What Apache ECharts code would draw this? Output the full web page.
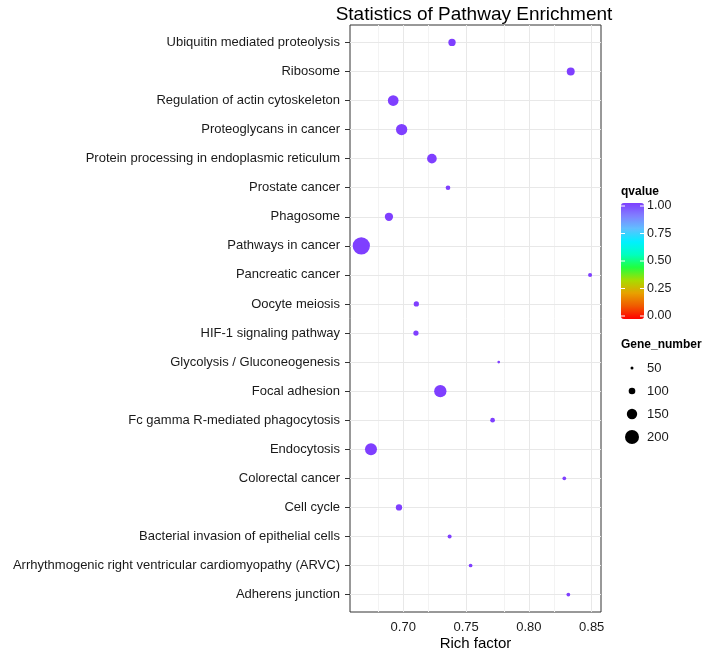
<!DOCTYPE html>
<html>
<head>
<meta charset="utf-8">
<script src="https://cdn.jsdelivr.net/npm/echarts@6/dist/echarts.min.js"></script>
<style>
html,body{margin:0;padding:0;background:#fff;}
#chart{width:709px;height:649px;}
</style>
</head>
<body>
<div id="chart"></div>
<script>
// ---- data (top-to-bottom order as in picture) ----
const categories = [
  'Ubiquitin mediated proteolysis',
  'Ribosome',
  'Regulation of actin cytoskeleton',
  'Proteoglycans in cancer',
  'Protein processing in endoplasmic reticulum',
  'Prostate cancer',
  'Phagosome',
  'Pathways in cancer',
  'Pancreatic cancer',
  'Oocyte meiosis',
  'HIF-1 signaling pathway',
  'Glycolysis / Gluconeogenesis',
  'Focal adhesion',
  'Fc gamma R-mediated phagocytosis',
  'Endocytosis',
  'Colorectal cancer',
  'Cell cycle',
  'Bacterial invasion of epithelial cells',
  'Arrhythmogenic right ventricular cardiomyopathy (ARVC)',
  'Adherens junction'
];
const richFactor = [0.7388,0.8333,0.6920,0.6987,0.7228,0.7356,0.6886,0.6666,0.8487,0.7104,
                    0.7101,0.7760,0.7295,0.7711,0.6743,0.8282,0.6966,0.7369,0.7536,0.8314];
const geneNumber = [109,118,155,163,141,73,122,245,64,81,81,46,177,73,173,60,95,64,60,60];
const qvalue = [1,1,1,1,1,1,1,1,1,1,1,1,1,1,1,1,1,1,1,1];

const xTicks = [0.70,0.75,0.80,0.85];
const xMinorTicks = [0.675,0.725,0.775,0.825];
const qTicks = [0,0.25,0.5,0.75,1];
const qTickLabels = ['0.00','0.25','0.50','0.75','1.00'];
const sizeBreaks = [50,100,150,200];

// ---- styling / mapping ----
const FONT = '"Liberation Sans", Arial, Helvetica, sans-serif';
const n = categories.length;
const sizeFn = g => 3 + (g - 50) * 0.0733;
const rainbow = ['#FF0000','#F05A00','#E8A000','#A8DC00','#20FF40','#00FFC0','#00F0FF','#60C0FF','#8080FF','#7F3FFF'];

const data = categories.map((c, i) => [richFactor[i], n - 1 - i, qvalue[i], geneNumber[i]]);
const yIdx = categories.map((c, i) => i);

// colorbar geometry
const cb = {x: 621, y: 203, w: 23, h: 116, inset: 3};
const qToY = v => cb.y + cb.h - cb.inset - v * (cb.h - 2 * cb.inset);

const graphics = [];
graphics.push({type:'text', left: 621, top: 186, style:{text:'qvalue', font:'bold 12px ' + FONT, fill:'#000'}});
qTicks.forEach((v, k) => {
  const y = qToY(v);
  graphics.push({type:'text', x: 647, y: y, style:{text: qTickLabels[k], font: '12.5px ' + FONT, fill:'#1a1a1a', textVerticalAlign:'middle'}});
  graphics.push({type:'line', shape:{x1: cb.x, y1: y, x2: cb.x + 4, y2: y}, style:{stroke:'#fff', lineWidth:1}, z: 100});
  graphics.push({type:'line', shape:{x1: cb.x + cb.w - 4, y1: y, x2: cb.x + cb.w, y2: y}, style:{stroke:'#fff', lineWidth:1}, z: 100});
});
graphics.push({type:'text', left: 621, top: 339, style:{text:'Gene_number', font:'bold 12px ' + FONT, fill:'#000'}});
sizeBreaks.forEach((g, k) => {
  const cy = 368 + k * 23;
  graphics.push({type:'circle', shape:{cx: 632, cy: cy, r: sizeFn(g) / 2}, style:{fill:'#000'}});
  graphics.push({type:'text', x: 647, y: cy, style:{text: String(g), font: '13px ' + FONT, fill:'#1a1a1a', textVerticalAlign:'middle'}});
});

const chart = echarts.init(document.getElementById('chart'), null, {renderer:'canvas'});
chart.setOption({
  animation: false,
  backgroundColor: '#fff',
  title: {
    text: 'Statistics of Pathway Enrichment',
    left: 469, top: 0, textAlign: 'center',
    textStyle: {fontFamily: FONT, fontSize: 19, fontWeight: 'normal', color: '#000'}
  },
  grid: {left: 350, right: 108, top: 25, bottom: 37, show: true, borderColor: '#333', borderWidth: 1,
         backgroundColor: '#fff', containLabel: false, outerBoundsMode: 'none'},
  xAxis: {
    type: 'value', min: 0.6576, max: 0.8574,
    name: 'Rich factor', nameLocation: 'middle', nameGap: 24, nameMoveOverlap: false,
    nameTextStyle: {fontFamily: FONT, fontSize: 15, color: '#000', verticalAlign: 'top'},
    axisLine: {show: false},
    axisTick: {show: true, length: 5, customValues: xTicks, lineStyle: {color: '#333'}},
    axisLabel: {customValues: xTicks, margin: 9, formatter: v => v.toFixed(2), fontFamily: FONT, fontSize: 13, color: '#1a1a1a'},
    splitLine: {show: false}
  },
  yAxis: {
    type: 'value', min: -0.6, max: n - 1 + 0.6,
    axisLine: {show: false},
    axisTick: {show: true, length: 5, customValues: yIdx, lineStyle: {color: '#333'}},
    axisLabel: {customValues: yIdx, margin: 10, formatter: v => categories[n - 1 - Math.round(v)], fontFamily: FONT, fontSize: 13, color: '#1a1a1a'},
    splitLine: {show: false}
  },
  visualMap: {
    type: 'continuous', min: 0, max: 1, dimension: 2, seriesIndex: 1,
    left: cb.x, top: cb.y, itemWidth: cb.w, itemHeight: cb.h, padding: 0,
    calculable: false, text: null, orient: 'vertical',
    inRange: {color: rainbow}
  },
  graphic: graphics,
  series: [
    {
      type: 'scatter', data: [], silent: true, z: 1,
      markLine: {
        silent: true, z: 1, symbol: ['none','none'], label: {show: false}, animation: false,
        data: [
          ...xMinorTicks.map(v => ({xAxis: v, lineStyle: {color: '#f3f3f3', width: 1, type: 'solid'}})),
          ...xTicks.map(v => ({xAxis: v, lineStyle: {color: '#e8e8e8', width: 1, type: 'solid'}})),
          ...yIdx.map(v => ({yAxis: v, lineStyle: {color: '#e8e8e8', width: 1, type: 'solid'}}))
        ]
      }
    },
    {
      type: 'scatter', z: 5,
      data: data,
      symbol: 'circle',
      symbolSize: d => sizeFn(d[3]),
      itemStyle: {opacity: 1}
    }
  ]
});
</script>
</body>
</html>
